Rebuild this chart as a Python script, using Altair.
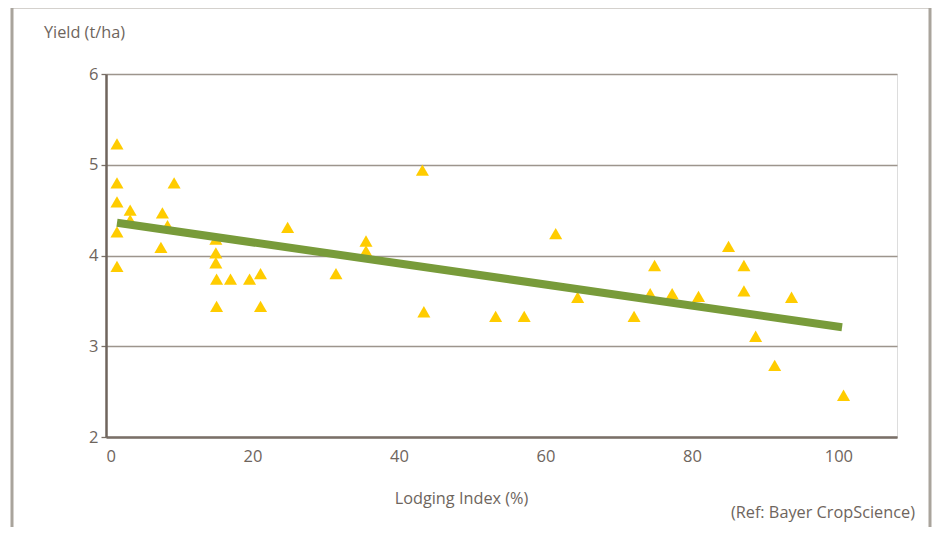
import altair as alt
import pandas as pd

# Data
lodging = [1.5, 1.5, 1.5, 1.5, 1.5, 3.3, 3.3, 9.3, 7.7, 8.4, 7.5,
           15.0, 15.0, 15.0, 15.1, 17.0, 19.6, 21.1, 15.1, 21.1, 24.8,
           43.2, 35.5, 35.5, 31.4, 43.4, 53.2, 57.1, 61.4, 64.4,
           72.1, 74.3, 74.9, 77.3, 80.9, 85.0, 87.1, 87.1, 93.6, 88.7, 91.3, 100.7]
yield_t = [5.23, 4.80, 4.59, 4.26, 3.88, 4.50, 4.39, 4.80, 4.47, 4.33, 4.09,
           4.18, 4.03, 3.92, 3.74, 3.74, 3.74, 3.80, 3.44, 3.44, 4.31,
           4.94, 4.16, 4.05, 3.80, 3.38, 3.33, 3.33, 4.24, 3.54,
           3.33, 3.58, 3.89, 3.58, 3.55, 4.10, 3.89, 3.61, 3.54, 3.11, 2.79, 2.46]
trend_x = [1.5, 100.5]
trend_y = [4.36, 3.21]
x_ticks = [0, 20, 40, 60, 80, 100]
y_ticks = [2, 3, 4, 5, 6]

TXT = "#6e655d"
FONT = "Open Sans"
W, H = 791, 363

pts = pd.DataFrame({"x": lodging, "y": yield_t})
trend = pd.DataFrame({"x": trend_x, "y": trend_y})

xs = alt.Scale(domain=[0, 108], nice=False, zero=False)
ys = alt.Scale(domain=[2, 6], nice=False, zero=False)

x_axis = alt.Axis(
    values=x_ticks, format="d", grid=False, ticks=False, domainColor="#7a7068", domainWidth=2.5,
    labelFontSize=16.5, labelColor=TXT, labelFont=FONT, labelPadding=11,
    title="Lodging Index (%)", titleFont=FONT, titleFontSize=16.3, titleFontWeight="normal",
    titleColor=TXT, titleX=355, titleY=61, titleBaseline="middle", titleAlign="center",
)
y_axis = alt.Axis(
    values=y_ticks, format="d", grid=True, gridColor="#9d958d", gridWidth=1.3,
    ticks=True, tickSize=5, tickColor="#7a7068", tickWidth=1.3,
    domainColor="#6f655d", domainWidth=2.5,
    labelFontSize=16.5, labelColor=TXT, labelFont=FONT, labelPadding=3,
    title="Yield (t/ha)", titleFont=FONT, titleFontSize=16.3, titleFontWeight="normal",
    titleColor=TXT, titleAngle=0, titleX=-22, titleY=-42, titleBaseline="middle",
    titleAlign="center",
)

frame = alt.Chart(pd.DataFrame({"a": [0]})).mark_rect(
    fill="transparent", stroke="#a9a49c", strokeWidth=3
).encode(x=alt.value(-94), x2=alt.value(824), y=alt.value(-67), y2=alt.value(470))

points = alt.Chart(pts).mark_point(
    shape="triangle-up", filled=True, color="#ffcc00", size=170, opacity=1
).encode(
    x=alt.X("x:Q", scale=xs, axis=x_axis),
    y=alt.Y("y:Q", scale=ys, axis=y_axis),
)

line = alt.Chart(trend).mark_line(color="#789b3a", strokeWidth=8, strokeCap="butt").encode(
    x=alt.X("x:Q", scale=xs),
    y=alt.Y("y:Q", scale=ys),
)

ref = alt.Chart(pd.DataFrame({"a": [0]})).mark_text(
    align="right", baseline="middle", font=FONT, fontSize=16.3, color=TXT
).encode(x=alt.value(809), y=alt.value(439), text=alt.value("(Ref: Bayer CropScience)"))

chart = alt.layer(frame, points, line, ref).properties(
    width=W, height=H,
    autosize=alt.AutoSizeParams(type="none"),
    padding={"left": 98, "top": 66, "right": 35, "bottom": 90},
).configure_view(stroke=None).configure(background="white")

chart.save("out.html", embed_options={"renderer": "svg", "actions": False})
